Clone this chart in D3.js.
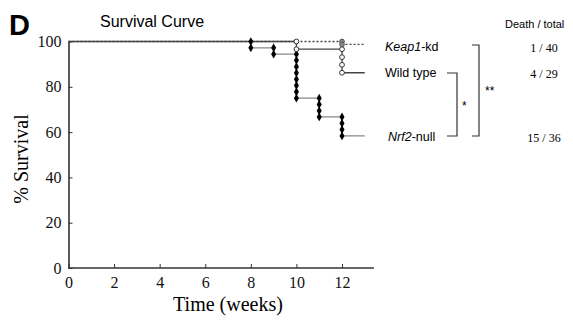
<!DOCTYPE html>
<html>
<head>
<meta charset="utf-8">
<script src="https://cdn.jsdelivr.net/npm/d3@7"></script>
<style>
  body { margin: 0; background: #fff; }
  svg { display: block; }
</style>
</head>
<body>
<div id="chart"></div>
<script>
// step curves: time (weeks) and % survival
const keapTimes = [0, 12, 13];
const keapSurv = [100, 98.7, 98.7];
const wildTimes = [0, 10, 12, 13];
const wildSurv = [100, 96.6, 86.2, 86.2];
const nrfTimes = [0, 8, 9, 10, 11, 12, 13];
const nrfSurv = [100, 97.2, 94.4, 75.0, 66.7, 58.3, 58.3];

// death marks (week, survival level)
const keapMarks = [[12, 100], [12, 98.7]];
const wildMarks = [[10, 100], [10, 96.6], [12, 96.6], [12, 93.1], [12, 89.7], [12, 86.2]];
const nrfMarks = [
  [8, 100], [8, 97.2],
  [9, 97.2], [9, 94.4],
  [10, 94.4], [10, 91.7], [10, 88.9], [10, 86.1], [10, 83.3], [10, 80.6], [10, 77.8], [10, 75.0],
  [11, 75.0], [11, 72.2], [11, 69.4], [11, 66.7],
  [12, 66.7], [12, 63.9], [12, 61.1], [12, 58.3]
];

const xTicks = [0, 2, 4, 6, 8, 10, 12];
const yTicks = [0, 20, 40, 60, 80, 100];
const groupNames = ['Keap1-kd', 'Wild type', 'Nrf2-null'];
const deathTotals = ['1 / 40', '4 / 29', '15 / 36'];

const width = 573;
const height = 322;
const serif = '"Liberation Serif", "Times New Roman", serif';
const sans = '"Liberation Sans", Arial, sans-serif';

const svg = d3.select('#chart')
    .append('svg')
    .attr('width', width)
    .attr('height', height);

const x = d3.scaleLinear().domain([0, 12]).range([68.5, 342]);
const y = d3.scaleLinear().domain([0, 100]).range([268, 41.5]);

// axes
const xAxis = svg.append('g')
    .attr('transform', `translate(0,${y(0)})`)
    .call(d3.axisBottom(x).tickValues(xTicks).tickSizeInner(-4).tickSizeOuter(0).tickPadding(10));
xAxis.select('.domain').attr('d', `M${x(0)},0H${x(13.4)}`);

const yAxis = svg.append('g')
    .attr('transform', `translate(${x(0)},0)`)
    .call(d3.axisLeft(y).tickValues(yTicks).tickSizeInner(-4).tickSizeOuter(0).tickPadding(7));

[xAxis, yAxis].forEach(a => {
    a.select('.domain').attr('stroke', '#333').attr('stroke-width', 1.6);
    a.selectAll('.tick line').attr('stroke', '#333').attr('stroke-width', 1);
    a.selectAll('.tick text')
        .attr('fill', '#111')
        .style('font-family', serif)
        .style('font-size', '16px');
});
xAxis.selectAll('.tick text').attr('dy', '0.6em');

// curves
const line = d3.line()
    .x(d => x(d[0]))
    .y(d => y(d[1]))
    .curve(d3.curveStepAfter);

svg.append('path')
    .datum(d3.zip(keapTimes, keapSurv))
    .attr('d', line)
    .attr('fill', 'none')
    .attr('stroke', '#444')
    .attr('stroke-width', 1.3)
    .attr('stroke-dasharray', '2,2');

svg.append('path')
    .datum(d3.zip(nrfTimes, nrfSurv))
    .attr('d', line)
    .attr('fill', 'none')
    .attr('stroke', '#888')
    .attr('stroke-width', 1.2);

svg.append('path')
    .datum(d3.zip(wildTimes, wildSurv))
    .attr('d', line)
    .attr('fill', 'none')
    .attr('stroke', '#444')
    .attr('stroke-width', 1.3);

// marks
const diamond = d3.symbol().type(d3.symbolDiamond).size(22);
svg.selectAll('.nrf')
    .data(nrfMarks)
    .enter()
    .append('path')
    .attr('class', 'nrf')
    .attr('d', diamond)
    .attr('transform', d => `translate(${x(d[0])},${y(d[1])})`)
    .attr('fill', '#000');

svg.selectAll('.wild')
    .data(wildMarks)
    .enter()
    .append('circle')
    .attr('class', 'wild')
    .attr('cx', d => x(d[0]))
    .attr('cy', d => y(d[1]))
    .attr('r', 2.4)
    .attr('fill', '#fff')
    .attr('stroke', '#333')
    .attr('stroke-width', 1);

svg.selectAll('.keap')
    .data(keapMarks)
    .enter()
    .append('circle')
    .attr('class', 'keap')
    .attr('cx', d => x(d[0]))
    .attr('cy', d => y(d[1]))
    .attr('r', 2.4)
    .attr('fill', '#888')
    .attr('stroke', '#444')
    .attr('stroke-width', 0.8);

// titles
svg.append('text')
    .attr('x', 9).attr('y', 35)
    .style('font-family', sans).style('font-size', '29px').style('font-weight', 'bold')
    .text('D');

svg.append('text')
    .attr('x', 100).attr('y', 27)
    .style('font-family', sans).style('font-size', '16px')
    .text('Survival Curve');

svg.append('text')
    .attr('transform', 'translate(28,159) rotate(-90)')
    .attr('text-anchor', 'middle')
    .style('font-family', serif).style('font-size', '20px')
    .text('% Survival');

svg.append('text')
    .attr('x', 228).attr('y', 311)
    .attr('text-anchor', 'middle')
    .style('font-family', serif).style('font-size', '20px')
    .text('Time (weeks)');

// group labels
const labelY = [51, 77, 141];
const labelX = [385, 385, 388];
const lab = svg.append('g').style('font-family', sans).style('font-size', '12.5px');

const t0 = lab.append('text').attr('x', labelX[0]).attr('y', labelY[0]);
t0.append('tspan').style('font-style', 'italic').text(groupNames[0].split('-')[0]);
t0.append('tspan').text('-' + groupNames[0].split('-')[1]);

lab.append('text').attr('x', labelX[1]).attr('y', labelY[1]).text(groupNames[1]);

const t2 = lab.append('text').attr('x', labelX[2]).attr('y', labelY[2]);
t2.append('tspan').style('font-style', 'italic').text(groupNames[2].split('-')[0]);
t2.append('tspan').text('-' + groupNames[2].split('-')[1]);

// death / total column
svg.append('text')
    .attr('x', 505).attr('y', 28)
    .style('font-family', sans).style('font-size', '11px')
    .text('Death / total');

svg.selectAll('.dt')
    .data(deathTotals)
    .enter()
    .append('text')
    .attr('class', 'dt')
    .attr('x', 544)
    .attr('y', (d, i) => labelY[i] + 1)
    .attr('text-anchor', 'middle')
    .style('font-family', serif).style('font-size', '12px')
    .text(d => d);

// significance brackets
svg.append('path')
    .attr('d', 'M447,73H457V136H447')
    .attr('fill', 'none').attr('stroke', '#333').attr('stroke-width', 1.2);
svg.append('path')
    .attr('d', 'M472,45H479V136H472')
    .attr('fill', 'none').attr('stroke', '#333').attr('stroke-width', 1.2);

svg.append('text')
    .attr('x', 462).attr('y', 110)
    .style('font-family', sans).style('font-size', '12px')
    .text('*');
svg.append('text')
    .attr('x', 485).attr('y', 95)
    .style('font-family', sans).style('font-size', '12px')
    .text('**');
</script>
</body>
</html>
